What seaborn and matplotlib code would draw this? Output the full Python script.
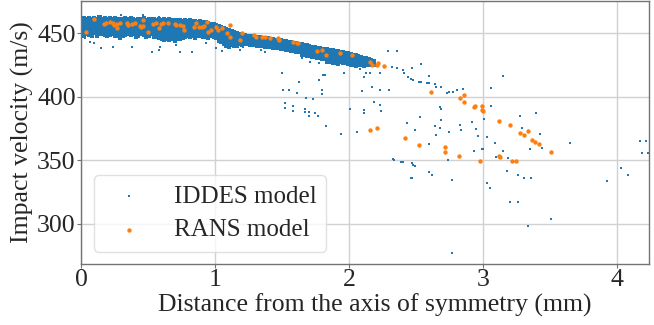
import matplotlib
matplotlib.use("Agg")
import matplotlib.pyplot as plt
import seaborn as sns
import pandas as pd

# ---------------- data ----------------
# dense IDDES band: column x positions and the y values in each column
band_x = [0.003, 0.021, 0.040, 0.058, 0.079, 0.097, 0.118, 0.137, 0.156, 0.177,
          0.195, 0.214, 0.236, 0.254, 0.273, 0.292, 0.313, 0.331, 0.352, 0.370,
          0.389, 0.410, 0.428, 0.447, 0.468, 0.486, 0.505, 0.526, 0.544, 0.563,
          0.584, 0.602, 0.621, 0.642, 0.660, 0.679, 0.700, 0.718, 0.737, 0.758,
          0.776, 0.795, 0.816, 0.834, 0.853, 0.874, 0.892, 0.911, 0.932, 0.950,
          0.969, 0.990, 1.008, 1.027, 1.048, 1.066, 1.085, 1.106, 1.124, 1.143,
          1.164, 1.182, 1.201, 1.222, 1.240, 1.259, 1.280, 1.298, 1.317, 1.338,
          1.356, 1.375, 1.396, 1.414, 1.433, 1.454, 1.472, 1.491, 1.512, 1.530,
          1.549, 1.570, 1.588, 1.607, 1.628, 1.646, 1.665, 1.686, 1.704, 1.723,
          1.744, 1.762, 1.781, 1.802, 1.820, 1.839, 1.860, 1.878, 1.897, 1.918,
          1.936, 1.955, 1.976, 1.994, 2.013, 2.034, 2.052, 2.071, 2.092, 2.110,
          2.129, 2.150, 2.168, 2.190]
band_y = [
    [460.5, 458.8, 457.1, 455.6, 453.9, 452.4, 450.9, 449.2],
    [461.8, 459.9, 458.3, 456.6, 455.0, 453.2, 451.7, 449.8, 448.1],
    [461.2, 459.4, 457.9, 456.2, 454.5, 452.9, 451.1, 449.5],
    [462.4, 460.6, 458.9, 457.3, 455.5, 453.8, 452.2, 450.6, 448.8],
    [461.5, 459.7, 458.1, 456.3, 454.8, 453.1, 451.4, 449.7, 448.2],
    [462.0, 460.2, 458.6, 456.9, 455.2, 453.6, 451.9, 450.2],
    [461.3, 459.5, 457.8, 456.1, 454.4, 452.8, 451.2, 449.4, 447.9],
    [462.6, 460.8, 459.1, 457.4, 455.8, 454.1, 452.5, 450.8, 449.1],
    [461.0, 459.3, 457.6, 455.9, 454.3, 452.6, 450.9, 449.3],
    [461.9, 460.1, 458.4, 456.8, 455.1, 453.4, 451.8, 450.1, 448.4],
    [461.4, 459.6, 457.9, 456.2, 454.6, 452.9, 451.3, 449.6, 447.9],
    [462.2, 460.4, 458.8, 457.1, 455.4, 453.7, 452.1, 450.4, 448.7],
    [461.1, 459.4, 457.7, 456.0, 454.3, 452.7, 451.0, 449.3],
    [461.7, 459.9, 458.2, 456.5, 454.9, 453.2, 451.6, 449.9, 448.2],
    [460.9, 459.2, 457.5, 455.8, 454.1, 452.5, 450.8, 449.1, 447.5],
    [461.6, 459.8, 458.1, 456.4, 454.7, 453.0, 451.4, 449.7, 448.0, 446.6],
    [461.2, 459.5, 457.8, 456.1, 454.4, 452.8, 451.1, 449.4, 447.8],
    [462.1, 460.3, 458.6, 456.9, 455.2, 453.6, 451.9, 450.2, 448.5],
    [461.0, 459.3, 457.6, 455.9, 454.2, 452.6, 450.9, 449.2],
    [461.8, 460.0, 458.3, 456.6, 454.9, 453.3, 451.6, 449.9, 448.3],
    [461.3, 459.6, 457.9, 456.2, 454.5, 452.9, 451.2, 449.5],
    [460.8, 459.0, 457.3, 455.6, 453.9, 452.3, 450.6, 448.9, 447.4],
    [461.5, 459.8, 458.1, 456.4, 454.7, 453.1, 451.4, 449.7, 448.1],
    [461.0, 459.3, 457.6, 455.9, 454.2, 452.6, 450.9, 449.2],
    [461.9, 460.1, 458.4, 456.7, 455.0, 453.4, 451.7, 450.0, 448.4],
    [460.7, 459.0, 457.3, 455.6, 453.9, 452.3, 450.6, 448.9, 447.3],
    [461.4, 459.7, 458.0, 456.3, 454.6, 453.0, 451.3, 449.6, 448.0],
    [460.9, 459.2, 457.5, 455.8, 454.1, 452.5, 450.8, 449.1],
    [461.6, 459.9, 458.2, 456.5, 454.8, 453.2, 451.5, 449.8, 448.2, 446.7],
    [460.6, 458.9, 457.2, 455.5, 453.8, 452.2, 450.5, 448.8, 447.2],
    [461.2, 459.5, 457.8, 456.1, 454.4, 452.8, 451.1, 449.4, 447.8, 446.2],
    [460.4, 458.7, 457.0, 455.3, 453.6, 452.0, 450.3, 448.6, 447.0, 445.5],
    [461.0, 459.3, 457.6, 455.9, 454.2, 452.6, 450.9, 449.2, 447.6, 446.0, 444.6],
    [460.5, 458.8, 457.1, 455.4, 453.7, 452.1, 450.4, 448.7, 447.1, 445.5],
    [461.1, 459.4, 457.7, 456.0, 454.3, 452.7, 451.0, 449.3, 447.7, 446.1, 444.5],
    [460.3, 458.6, 456.9, 455.2, 453.5, 451.9, 450.2, 448.5, 446.9, 445.3],
    [460.8, 459.1, 457.4, 455.7, 454.0, 452.4, 450.7, 449.0, 447.4, 445.8, 444.3],
    [460.2, 458.5, 456.8, 455.1, 453.4, 451.8, 450.1, 448.4, 446.8, 445.2],
    [460.7, 459.0, 457.3, 455.6, 453.9, 452.3, 450.6, 448.9, 447.3, 445.7],
    [460.0, 458.3, 456.6, 454.9, 453.2, 451.6, 449.9, 448.2, 446.6],
    [460.4, 458.7, 457.0, 455.3, 453.6, 452.0, 450.3, 448.6, 447.0],
    [459.8, 458.1, 456.4, 454.7, 453.0, 451.4, 449.7, 448.0],
    [460.1, 458.4, 456.7, 455.0, 453.3, 451.7, 450.0, 448.3, 446.8],
    [459.6, 457.9, 456.2, 454.5, 452.8, 451.2, 449.5, 447.8],
    [459.9, 458.2, 456.5, 454.8, 453.1, 451.5, 449.8, 448.1, 446.6],
    [459.2, 457.5, 455.8, 454.1, 452.4, 450.8, 449.1, 447.5],
    [459.5, 457.8, 456.1, 454.4, 452.7, 451.1, 449.4, 447.8],
    [458.7, 457.0, 455.3, 453.6, 451.9, 450.3, 448.6, 447.0],
    [458.9, 457.2, 455.5, 453.8, 452.1, 450.5, 448.8, 447.2],
    [458.2, 456.5, 454.8, 453.1, 451.4, 449.8, 448.1, 446.6],
    [457.6, 455.9, 454.2, 452.5, 450.8, 449.2, 447.5],
    [457.0, 455.3, 453.6, 451.9, 450.2, 448.6, 447.0],
    [456.3, 454.6, 452.9, 451.2, 449.5, 447.9, 446.3],
    [455.6, 453.9, 452.2, 450.5, 448.8, 447.2, 445.6, 444.0],
    [455.0, 453.3, 451.6, 449.9, 448.2, 446.6, 445.0, 443.4],
    [454.3, 452.6, 450.9, 449.2, 447.5, 445.9, 444.3, 442.7, 441.2],
    [453.5, 451.8, 450.1, 448.4, 446.7, 445.1, 443.5, 441.9, 440.3],
    [452.8, 451.1, 449.4, 447.7, 446.0, 444.4, 442.8, 441.2, 439.6],
    [452.0, 450.3, 448.6, 446.9, 445.2, 443.6, 442.0, 440.4],
    [451.2, 449.5, 447.8, 446.1, 444.4, 442.8, 441.2, 439.7],
    [450.3, 448.6, 446.9, 445.2, 443.5, 441.9, 440.3],
    [449.6, 447.9, 446.2, 444.5, 442.8, 441.2],
    [449.0, 447.3, 445.6, 443.9, 442.2, 440.7],
    [448.5, 446.8, 445.1, 443.4, 441.8],
    [448.1, 446.4, 444.7, 443.0, 441.4],
    [447.8, 446.1, 444.4, 442.7, 441.1],
    [447.5, 445.8, 444.1, 442.4, 440.8],
    [447.3, 445.6, 443.9, 442.2, 440.6],
    [447.0, 445.3, 443.6, 441.9, 440.3],
    [446.8, 445.1, 443.4, 441.7, 440.1],
    [446.5, 444.8, 443.1, 441.4, 439.8],
    [446.3, 444.6, 442.9, 441.2, 439.6],
    [446.0, 444.3, 442.6, 440.9, 439.3],
    [445.7, 444.0, 442.3, 440.6, 439.0],
    [445.4, 443.7, 442.0, 440.3, 438.7],
    [445.1, 443.4, 441.7, 440.0, 438.4],
    [444.8, 443.1, 441.4, 439.7, 438.1],
    [444.4, 442.7, 441.0, 439.3, 437.7],
    [444.0, 442.3, 440.6, 438.9, 437.3],
    [443.6, 441.9, 440.2, 438.5, 436.9],
    [443.2, 441.5, 439.8, 438.1, 436.5],
    [442.8, 441.1, 439.4, 437.7, 436.1],
    [442.4, 440.7, 439.0, 437.3, 435.7],
    [442.0, 440.3, 438.6, 436.9, 435.3],
    [441.6, 439.9, 438.2, 436.5, 434.9],
    [441.2, 439.5, 437.8, 436.1, 434.5, 433.0],
    [440.8, 439.1, 437.4, 435.7, 434.1, 432.6],
    [440.4, 438.7, 437.0, 435.3, 433.7, 432.2],
    [440.0, 438.3, 436.6, 434.9, 433.3, 431.8],
    [439.6, 437.9, 436.2, 434.5, 432.9, 431.4],
    [439.2, 437.5, 435.8, 434.1, 432.5, 431.0],
    [438.8, 437.1, 435.4, 433.7, 432.1, 430.6],
    [438.4, 436.7, 435.0, 433.3, 431.7, 430.2],
    [438.0, 436.3, 434.6, 432.9, 431.3, 429.8],
    [437.6, 435.9, 434.2, 432.5, 430.9, 429.4],
    [437.3, 435.6, 433.9, 432.2, 430.6, 429.1, 427.6],
    [436.9, 435.2, 433.5, 431.8, 430.2, 428.7, 427.2],
    [436.5, 434.8, 433.1, 431.4, 429.8, 428.3, 426.8],
    [436.1, 434.4, 432.7, 431.0, 429.4, 427.9, 426.4],
    [435.7, 434.0, 432.3, 430.6, 429.0, 427.5, 426.0],
    [435.3, 433.6, 431.9, 430.2, 428.6, 427.1],
    [434.9, 433.2, 431.5, 429.8, 428.2, 426.7],
    [434.5, 432.8, 431.1, 429.4, 427.8, 426.3],
    [434.1, 432.4, 430.7, 429.0, 427.4, 425.9],
    [433.6, 431.9, 430.2, 428.5, 426.9, 425.4],
    [433.1, 431.4, 429.7, 428.0, 426.4, 425.0],
    [432.6, 430.9, 429.2, 427.5, 425.9, 424.5],
    [432.0, 430.3, 428.6, 426.9, 425.3],
    [431.4, 429.7, 428.0, 426.3, 424.8],
    [430.8, 429.1, 427.4, 425.8, 424.3],
    [430.2, 428.5, 426.8, 425.2],
    [429.6, 427.9, 426.2, 424.7],
    [429.0, 427.3, 425.7],
    [428.4, 426.7, 425.1],
]

# sparse IDDES points (x in mm, y in m/s)
iddes_sparse_x = [0.00, 0.15, 0.30, 0.46, 0.58, 0.03, 0.07, 0.10, 0.15, 0.24, 0.38,
                  0.53, 0.58, 0.59, 0.71, 0.74, 0.83, 0.93, 1.01, 1.05, 1.19, 1.21,
                  1.34, 1.37, 1.49, 1.54, 1.56, 1.63, 1.65, 1.68, 1.71, 1.73, 1.78,
                  1.82, 1.78, 1.63, 1.50, 1.51, 1.55, 1.61, 1.68, 1.73, 1.52, 1.52,
                  1.58, 1.58, 1.67, 1.67, 1.70, 1.70, 1.75, 1.77, 1.80, 1.80, 1.81,
                  1.83, 1.94, 1.96, 2.01, 2.06, 2.08, 2.10, 2.11, 2.11, 2.11, 2.13,
                  2.16, 2.17, 2.19, 2.23, 2.23, 2.23, 2.24, 2.29, 2.30, 2.36, 2.27,
                  2.32, 2.36, 2.40, 2.41, 2.44, 2.46, 2.47, 2.48, 2.52, 2.54, 2.54,
                  2.58, 2.60, 2.60, 2.64, 2.65, 2.69, 2.73, 2.75, 2.78, 2.81, 2.85,
                  3.06, 3.15, 2.68, 2.69, 2.53, 2.43, 2.49, 2.64, 2.68, 2.69, 2.75,
                  2.65, 2.60, 2.83, 2.84, 2.92, 2.95, 2.96, 3.01, 3.03, 2.99, 2.93,
                  3.06, 3.09, 3.10, 3.15, 3.19, 3.18, 3.26, 3.31, 3.36, 3.28, 3.40,
                  3.43, 3.44, 3.35, 3.29, 3.65, 4.17, 4.22, 4.19, 4.23, 4.03, 4.08,
                  3.93, 2.60, 2.62, 2.47, 2.48, 2.39, 2.34, 2.33, 2.40, 2.47, 2.49,
                  2.46, 2.74, 2.77, 3.03, 3.05, 3.20, 3.26, 3.51, 3.34, 2.77, 3.00]
iddes_sparse_y = [467.0, 463.6, 464.4, 464.4, 463.2, 446.0, 443.4, 442.1, 438.2, 439.5, 439.5,
                  435.5, 436.9, 439.5, 440.8, 435.5, 435.5, 442.1, 438.2, 436.0, 436.9, 439.5,
                  436.9, 435.5, 439.5, 440.8, 435.5, 434.3, 430.3, 433.0, 427.7, 430.3, 426.4,
                  417.2, 413.3, 412.0, 419.0, 405.0, 405.0, 403.0, 399.0, 398.5, 395.0, 391.0,
                  393.0, 389.0, 390.4, 388.3, 388.3, 385.2, 387.0, 385.2, 405.4, 402.2, 417.4,
                  377.0, 370.8, 418.5, 390.4, 372.0, 421.7, 404.8, 416.0, 389.7, 387.5, 419.0,
                  418.5, 408.0, 396.0, 393.6, 405.4, 419.0, 388.9, 436.3, 405.4, 436.3, 424.3,
                  423.7, 422.5, 421.1, 418.5, 415.4, 414.0, 422.5, 413.3, 412.0, 411.5, 426.0,
                  410.7, 411.2, 416.4, 409.9, 408.0, 408.0, 402.8, 404.0, 404.0, 405.4, 406.0,
                  406.7, 416.4, 392.2, 390.2, 384.4, 379.7, 374.0, 377.0, 375.3, 381.8, 372.0,
                  370.0, 362.7, 378.0, 374.0, 380.0, 374.7, 369.2, 382.3, 368.2, 358.7, 357.4,
                  392.8, 363.5, 352.4, 357.4, 352.1, 341.9, 338.5, 336.4, 336.4, 384.9, 387.5,
                  370.8, 359.5, 358.7, 375.3, 363.9, 365.5, 365.5, 356.0, 356.0, 344.3, 338.5,
                  333.8, 341.1, 338.5, 347.7, 346.4, 349.0, 350.3, 350.9, 348.7, 336.4, 345.8,
                  336.4, 350.3, 334.6, 332.5, 328.5, 317.5, 317.0, 304.1, 298.4, 277.4, 359.0]

# RANS points
rans_x = [0.04, 0.10, 0.17, 0.19, 0.22, 0.24, 0.25, 0.27, 0.27, 0.29, 0.34, 0.35,
          0.38, 0.40, 0.44, 0.45, 0.46, 0.46, 0.50, 0.54, 0.56, 0.58, 0.60, 0.61,
          0.65, 0.70, 0.71, 0.74, 0.76, 0.77, 0.84, 0.86, 0.88, 0.90, 0.92, 0.94,
          0.95, 0.97, 1.01, 1.02, 1.05, 1.09, 1.11, 1.11, 1.19, 1.20, 1.29, 1.31,
          1.35, 1.37, 1.41, 1.47, 1.48, 1.58, 1.61, 1.62, 1.76, 1.80, 1.83, 1.93,
          2.02, 2.16, 2.17, 2.21, 2.22, 2.26, 2.61, 2.83, 2.86, 2.86, 2.93, 2.94,
          2.99, 2.99, 3.00, 3.12, 2.16, 2.21, 2.42, 2.52, 2.72, 2.72, 2.82, 2.98,
          3.12, 3.13, 3.20, 3.28, 3.34, 3.31, 3.37, 3.39, 3.42, 3.51, 3.22, 3.25]
rans_y = [451.3, 461.0, 457.3, 458.3, 458.8, 457.9, 456.5, 457.3, 453.9, 458.3, 457.9, 456.5,
          457.3, 457.9, 455.7, 455.2, 460.5, 455.7, 451.3, 457.3, 457.9, 453.9, 457.3, 458.3,
          457.9, 457.3, 456.5, 456.5, 455.7, 452.6, 455.2, 457.9, 455.2, 455.2, 455.7, 459.1,
          451.3, 452.6, 455.2, 452.6, 453.9, 450.0, 456.5, 447.4, 444.7, 450.0, 448.7, 446.8,
          446.8, 446.8, 446.0, 446.0, 444.7, 443.4, 442.6, 442.1, 436.0, 436.9, 432.9, 434.3,
          432.9, 427.7, 425.1, 425.1, 426.9, 424.3, 404.0, 398.9, 401.2, 395.7, 391.8, 392.8,
          392.8, 389.7, 388.9, 381.0, 374.0, 375.7, 367.9, 361.9, 360.8, 356.6, 353.7, 349.8,
          353.7, 352.7, 377.9, 371.8, 372.9, 369.7, 365.8, 364.7, 362.7, 356.9, 349.8, 349.8]

x_ticks = [0, 1, 2, 3, 4]
y_ticks = [300, 350, 400, 450]

# ---------------- build tables ----------------
bx, by = [], []
for xc, ys in zip(band_x, band_y):
    for yv in ys:
        bx.append(xc)
        by.append(yv)
df_band = pd.DataFrame({"x": bx, "y": by})
df_sparse = pd.DataFrame({"x": iddes_sparse_x, "y": iddes_sparse_y})
df_rans = pd.DataFrame({"x": rans_x, "y": rans_y})

# ---------------- style ----------------
sns.set_style("whitegrid", {"grid.color": "0.82", "axes.edgecolor": "0.45"})
plt.rcParams["font.family"] = ["Liberation Serif", "DejaVu Serif"]
FS = 18.5
plt.rcParams["font.size"] = FS

blue = "#1f77b4"
orange = "#ff7f0e"

fig = plt.figure(figsize=(6.54, 3.25), dpi=100)
ax = fig.add_axes([81 / 654, 61 / 325, 568 / 654, 263 / 325])

sns.scatterplot(data=df_band, x="x", y="y", ax=ax, color=blue, s=6,
                linewidth=0, marker="s", legend=False, zorder=2)
sns.scatterplot(data=df_sparse, x="x", y="y", ax=ax, color=blue, s=3,
                linewidth=0, marker="s", label="IDDES model", zorder=2)
sns.scatterplot(data=df_rans, x="x", y="y", ax=ax, color=orange, s=10,
                linewidth=0, label="RANS model", zorder=3)

ax.set_xlim(0, 4.24)
ax.set_ylim(268.5, 475.4)
ax.set_xticks(x_ticks)
ax.set_yticks(y_ticks)
ax.set_xlabel("Distance from the axis of symmetry (mm)", fontsize=FS, labelpad=1)
ax.set_ylabel("Impact velocity (m/s)", fontsize=FS, labelpad=2)
ax.xaxis.set_label_coords(0.517, -0.112)
ax.tick_params(axis="both", labelsize=FS, length=3, width=0.8,
               color="0.45", pad=0.8, bottom=True, left=True)
ax.grid(True, color="0.82", linewidth=1.0)
for sp in ax.spines.values():
    sp.set_color("0.45")
    sp.set_linewidth(1.0)

leg = ax.legend(loc="lower left", fontsize=18, handlelength=2.0,
                handletextpad=0.8, labelspacing=0.45, borderpad=0.4,
                borderaxespad=0.5, frameon=True, fancybox=True, markerscale=1.0)
leg.get_frame().set_edgecolor("0.85")
leg.get_frame().set_linewidth(1.0)

fig.savefig("out.png", dpi=100)
